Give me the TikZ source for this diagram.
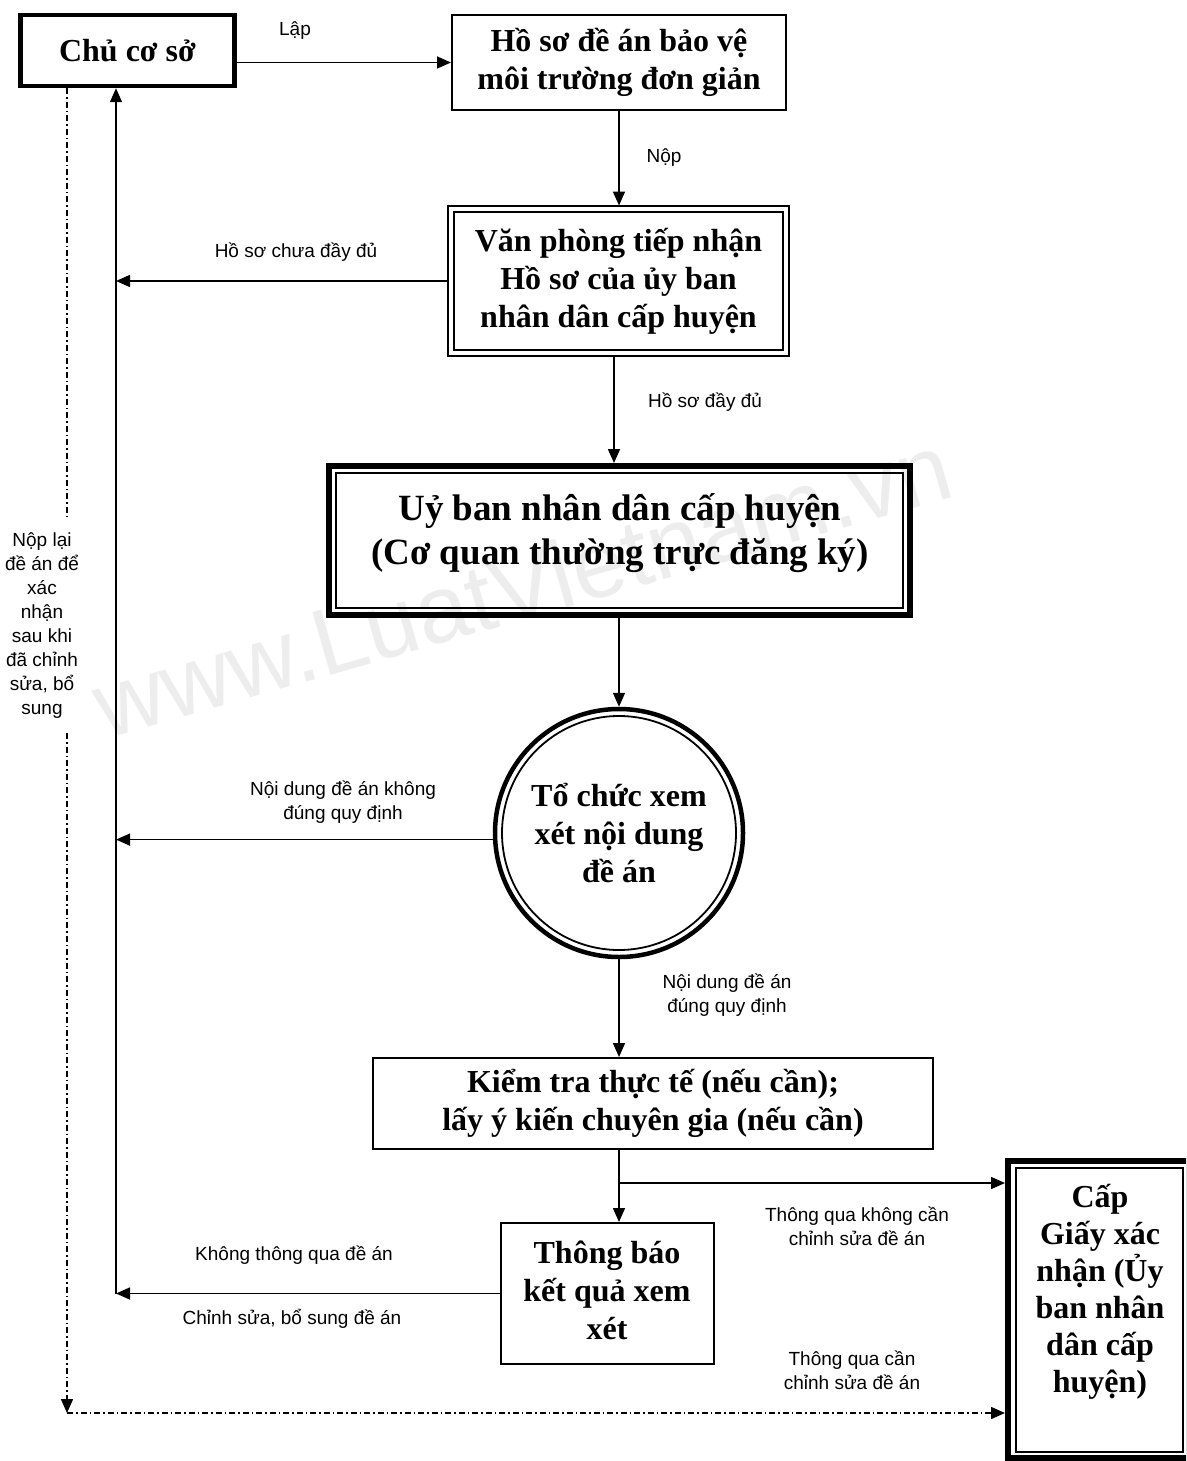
\documentclass[tikz,border=0pt]{standalone}
\usepackage{fontspec}
\setmainfont{Liberation Serif}
\newfontfamily\labfont{Liberation Sans}
\usetikzlibrary{arrows.meta,shapes.geometric}

\tikzset{
 arr/.style={-{Triangle[length=14pt,width=12pt]}},
 conn/.style={line width=1.6pt, arr},
 dd/.style={line width=1.6pt, dash pattern=on 6pt off 3pt on 1.5pt off 3pt},
 boxtxt/.style={font=\bfseries\fontsize{32}{38}\selectfont, align=center},
 lab/.style={font=\labfont\fontsize{19}{24}\selectfont, align=center, inner sep=0pt},
}

\begin{document}
\begin{tikzpicture}[x=1pt,y=-1pt]
\path[use as bounding box, fill=white] (0,0) rectangle (1186,1461);

% watermark
\node[rotate=16, text=black!7, font=\labfont\fontsize{95}{95}\selectfont] (wm) at (522,585) {www.LuatVietnam.vn};

% boxes
\node[draw, line width=4.5pt, minimum width=214pt, minimum height=71pt, boxtxt] (chu) at (127.5,50.5) {Chủ cơ sở};
\node[draw, line width=2pt, minimum width=334pt, minimum height=95pt, boxtxt] (hs) at (619,62.5) {Hồ sơ đề án bảo vệ\\môi trường đơn giản};
\node[draw, line width=1.8pt, double, double distance=3.5pt, outer sep=3.5pt, minimum width=335pt, minimum height=144pt, boxtxt] (vp) at (618.5,281) {Văn phòng tiếp nhận\\Hồ sơ của ủy ban\\nhân dân cấp huyện};

\node[draw, line width=6pt, minimum width=581pt, minimum height=149pt] (uy) at (619.5,540.5) {};
\draw[line width=1.5pt] ([shift={(10,10)}]uy.north west) rectangle ([shift={(-10,-10)}]uy.south east);
\node[boxtxt, font=\bfseries\fontsize{37}{44}\selectfont] (uyt) at (620,533) {Uỷ ban nhân dân cấp huyện\\(Cơ quan thường trực đăng ký)};

\node[draw, circle, line width=4.5pt, minimum size=248pt, boxtxt] (tc) at (619,833) {Tổ chức xem\\xét nội dung\\đề án};
\draw[line width=1.8pt] (tc.center) circle[radius=117pt];

\node[draw, line width=2pt, minimum width=560pt, minimum height=91pt, boxtxt] (kt) at (653,1103.5) {Kiểm tra thực tế (nếu cần);\\lấy ý kiến chuyên gia (nếu cần)};
\node[draw, line width=2pt, minimum width=213pt, minimum height=141pt] (tb) at (607.5,1293.5) {};
\node[boxtxt] (tbt) at (607,1290) {Thông báo\\kết quả xem\\xét};

\begin{scope}
\clip (0,0) rectangle (1186,1461);
\node[draw, line width=6pt, minimum width=181pt, minimum height=297pt] (cap) at (1098.5,1309.5) {};
\draw[line width=1.5pt] ([shift={(11,10)}]cap.north west) rectangle ([shift={(-9,-9)}]cap.south east);
\end{scope}
\node[boxtxt, font=\bfseries\fontsize{32}{37}\selectfont] (capt) at (1100,1292) {Cấp\\Giấy xác\\nhận (Ủy\\ban nhân\\dân cấp\\huyện)};

% left side label on dash-dot line
\node[lab, fill=white, inner ysep=14pt, inner xsep=3pt] (nl) at (42,626) {Nộp lại\\đề án để\\xác\\nhận\\sau khi\\đã chỉnh\\sửa, bổ\\sung};

% helper coordinates
\coordinate (lx) at (116,0);
\coordinate (dx) at (67,0);
\coordinate (c2) at (614,0);
\coordinate (corner) at (67,1413);
\coordinate (br) at (619,1183);

% connectors
\draw[conn] (chu.east |- hs.west) -- (hs.west);
\draw[conn] (hs.south) -- (vp.north -| hs.south);
\draw[conn] (vp.west) -- (vp.west -| lx);
\draw[conn] (vp.south -| c2) -- (uy.north -| c2);
\draw[conn] (uy.south -| tc.north) -- (tc.north);
\draw[conn] (tc.183) -- (tc.183 -| lx);
\draw[conn] (tc.south) -- (tc.south |- kt.north);
\draw[conn] (kt.south -| tc.south) -- (tb.north -| tc.south);
\draw[conn] (br) -- (cap.west |- br);
\draw[conn] (tb.west) -- (tb.west -| lx);
\draw[conn] (tb.west -| lx) -- (chu.south -| lx);

\draw[dd] (chu.south -| dx) -- (nl.north -| dx);
\draw[dd, arr] (nl.south -| dx) -- (corner);
\draw[dd, arr] (corner) -- (cap.west |- corner);

% labels
\node[lab] (l1) at (295,31) {Lập};
\node[lab] (l2) at (664,158) {Nộp};
\node[lab] (l3) at (296,252) {Hồ sơ chưa đầy đủ};
\node[lab] (l4) at (705,402) {Hồ sơ đầy đủ};
\node[lab] (l5) at (343,802) {Nội dung đề án không\\đúng quy định};
\node[lab] (l6) at (727,995) {Nội dung đề án\\đúng quy định};
\node[lab] (l7) at (857,1226) {Thông qua không cần\\chỉnh sửa đề án};
\node[lab] (l8) at (294,1255) {Không thông qua đề án};
\node[lab] (l9) at (292,1319) {Chỉnh sửa, bổ sung đề án};
\node[lab] (l10) at (852,1370) {Thông qua cần\\chỉnh sửa đề án};
\end{tikzpicture}
\end{document}
